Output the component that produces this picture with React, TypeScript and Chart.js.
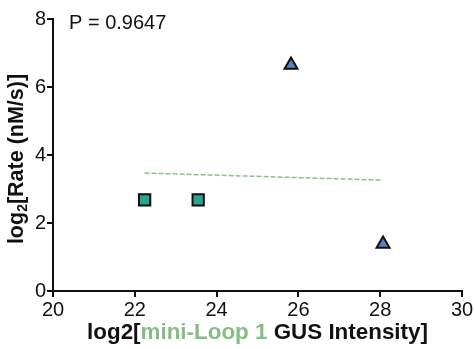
import React, { useEffect, useRef } from "react";
import { Chart, registerables } from "chart.js";
Chart.register(...registerables);

const squareX = [22.24, 23.55];
const squareY = [2.68, 2.68];
const triangleX = [25.82, 28.07];
const triangleY = [6.65, 1.38];
const fitX = [22.24, 28.07];
const fitY = [3.47, 3.26];
const xTicks = [20, 22, 24, 26, 28, 30];
const yTicks = [0, 2, 4, 6, 8];
const pText = "P = 0.9647";
const xTitleParts = [
  { text: "log2[", color: "#111111" },
  { text: "mini-Loop 1", color: "#86bc86" },
  { text: " GUS Intensity]", color: "#111111" },
];
const yTitleParts = [
  { text: "log", sub: false },
  { text: "2", sub: true },
  { text: "[Rate (nM/s)]", sub: false },
];

const FONT = "Arial, 'Liberation Sans', Helvetica, sans-serif";

const overlay = {
  id: "overlay",
  afterDraw(chart: any) {
    const ctx = chart.ctx;
    const area = chart.chartArea;
    ctx.save();
    ctx.font = `20px ${FONT}`;
    ctx.fillStyle = "#111111";
    ctx.textBaseline = "middle";
    ctx.textAlign = "left";
    ctx.fillText(pText, area.left + 16, 23);

    ctx.font = `bold 22.4px ${FONT}`;
    ctx.textBaseline = "alphabetic";
    let total = 0;
    for (const p of xTitleParts) total += ctx.measureText(p.text).width;
    let x = (area.left + area.right) / 2 - total / 2;
    for (const p of xTitleParts) {
      ctx.fillStyle = p.color;
      ctx.fillText(p.text, x, 339);
      x += ctx.measureText(p.text).width;
    }

    // y title with subscript
    const big = `bold 21.5px ${FONT}`;
    const small = `bold 14px ${FONT}`;
    let tw = 0;
    for (const p of yTitleParts) {
      ctx.font = p.sub ? small : big;
      tw += ctx.measureText(p.text).width;
    }
    ctx.translate(16, 159);
    ctx.rotate(-Math.PI / 2);
    ctx.fillStyle = "#111111";
    ctx.textBaseline = "alphabetic";
    let px = -tw / 2;
    for (const p of yTitleParts) {
      ctx.font = p.sub ? small : big;
      ctx.fillText(p.text, px, p.sub ? 11 : 7);
      px += ctx.measureText(p.text).width;
    }
    ctx.restore();
  },
};

export default function App() {
  const ref = useRef<HTMLCanvasElement>(null);
  useEffect(() => {
    const chart = new Chart(ref.current!, {
      type: "scatter",
      data: {
        datasets: [
          {
            data: fitX.map((x, i) => ({ x, y: fitY[i] })),
            showLine: true,
            borderColor: "#8cc08c",
            borderWidth: 1.5,
            borderDash: [5, 2],
            pointRadius: 0,
          },
          {
            data: squareX.map((x, i) => ({ x, y: squareY[i] })),
            pointStyle: "rect",
            pointRadius: 8,
            backgroundColor: "#2ba58c",
            borderColor: "#111111",
            borderWidth: 2,
          },
          {
            data: triangleX.map((x, i) => ({ x, y: triangleY[i] })),
            pointStyle: "triangle",
            pointRadius: 7.5,
            backgroundColor: "#5b7fc2",
            borderColor: "#111111",
            borderWidth: 2,
          },
        ],
      },
      options: {
        animation: false,
        responsive: false,
        layout: { padding: { top: 19, right: 13, left: 0, bottom: 0 } },
        plugins: { legend: { display: false }, tooltip: { enabled: false } },
        scales: {
          x: {
            type: "linear",
            min: 20,
            max: 30,
            afterBuildTicks: (s: any) => {
              s.ticks = xTicks.map((v) => ({ value: v }));
            },
            afterFit: (s: any) => {
              s.height = 58;
            },
            grid: { drawOnChartArea: false, color: "#111111", lineWidth: 2, tickLength: 6 },
            border: { color: "#111111", width: 2 },
            ticks: { color: "#111111", font: { size: 20, family: FONT }, padding: 1, maxRotation: 0 },
          },
          y: {
            type: "linear",
            min: 0,
            max: 8,
            afterBuildTicks: (s: any) => {
              s.ticks = yTicks.map((v) => ({ value: v }));
            },
            afterFit: (s: any) => {
              s.width = 53;
            },
            grid: { drawOnChartArea: false, color: "#111111", lineWidth: 2, tickLength: 6 },
            border: { color: "#111111", width: 2 },
            ticks: { color: "#111111", font: { size: 20, family: FONT }, padding: 1 },
          },
        },
      },
      plugins: [overlay],
    } as any);
    return () => chart.destroy();
  }, []);
  return (
    <div style={{ position: "fixed", left: 0, top: 0, width: 475, height: 349, background: "#fff" }}>
      <canvas ref={ref} width={475} height={349} style={{ width: 475, height: 349 }} />
    </div>
  );
}
